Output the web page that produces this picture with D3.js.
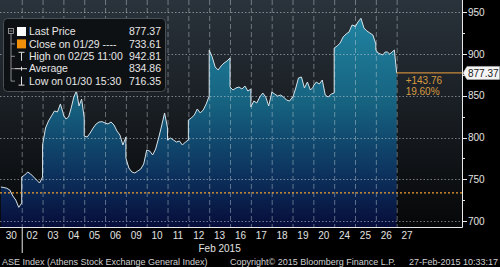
<!DOCTYPE html>
<html>
<head>
<meta charset="utf-8">
<script src="https://cdn.jsdelivr.net/npm/d3@7"></script>
<style>
  html, body { margin: 0; padding: 0; background: #000; }
  svg { display: block; font-family: "Liberation Sans", Arial, sans-serif; }
</style>
</head>
<body>
<svg id="chart" width="500" height="267"></svg>
<script>
// trading sessions shown on the x axis (30 Jan .. 27 Feb 2015)
let days = ["30","02","03","04","05","06","09","10","11","12","13","16","17","18","19","20","24","25","26","27"]

// intraday prices, one list per session, evenly spread over the session
let sessions = [
  [740.7, 740.1, 739.2, 737.1, 730.0, 725.1, 716.35, 721.6],
  [752.7, 755.1, 758.7, 756.3, 752.7, 749.1, 745.5, 752.7],
  [791.0, 811.4, 819.8, 825.8, 831.8, 830.6, 840.2, 828.2],
  [827.0, 822.2, 824.6, 835.4, 848.5, 855.7, 837.8, 846.1, 823.4],
  [801.8, 800.6, 805.4, 811.4, 816.2, 818.6, 819.0, 817.4],
  [817.4, 816.2, 818.6, 815.0, 807.8, 803.0, 791.0, 800.6],
  [775.5, 763.5, 758.7, 757.5, 759.9, 762.3, 768.3, 785.0],
  [785.0, 783.8, 779.1, 786.2, 799.4, 813.8, 829.4, 811.4],
  [797.0, 799.4, 797.0, 794.6, 795.8, 791.0, 794.6, 797.0],
  [821.0, 823.4, 827.0, 834.2, 829.4, 833.0, 840.2, 849.7],
  [904.8, 896.5, 884.5, 880.9, 885.7, 889.3, 891.7, 895.3],
  [860.5, 856.9, 859.3, 860.5, 858.1, 861.7, 855.7, 858.1],
  [836.6, 843.7, 841.4, 848.5, 853.3, 848.5, 837.8, 853.3],
  [854.5, 852.1, 849.7, 850.9, 848.5, 844.9, 843.7, 848.5],
  [847.3, 858.1, 871.3, 872.5, 859.3, 866.5, 856.9, 860.5],
  [861.7, 866.5, 864.1, 868.9, 850.9, 848.5, 852.1, 853.3],
  [907.2, 909.6, 913.2, 920.4, 924.0, 926.4, 934.8, 933.6],
  [932.4, 938.4, 942.81, 931.2, 927.6, 925.2, 922.8, 912.0],
  [904.8, 901.2, 900.0, 898.9, 902.4, 902.4, 900.0, 902.4, 904.8, 877.37]
]

let yTicks = [700, 750, 800, 850, 900, 950]
let yMinorTicks = [725, 775, 825, 875, 925]

let legendLabels = ["Last Price", "Close on 01/29 ----", "High on 02/25 11:00", "Average", "Low on 01/30 15:30"]
let legendValues = [877.37, 733.61, 942.81, 834.86, 716.35]

let lastPrice = 877.37
let prevClose = 733.61
let netChange = 143.76
let pctChange = 19.60

let monthLabel = "Feb 2015"
let footerLeft = "ASE Index (Athens Stock Exchange General Index)"
let footerMid = "Copyright\u00a9 2015 Bloomberg Finance L.P."
let footerRight = "27-Feb-2015 10:33:17"

// ---------------------------------------------------------------
let svg = d3.select("#chart")
let plotRight = 462, plotBottom = 227

let x = d3.scaleBand().domain(days).range([0.9, 417.5])
let y = d3.scaleLinear().domain([700, 950]).range([221, 12.3])

let points = []
sessions.forEach((s, i) => {
  s.forEach((v, j) => {
    points.push({ x: x(days[i]) + x.bandwidth() * j / (s.length - 1), v: v })
  })
})

let defs = svg.append("defs")
let bg = defs.append("linearGradient").attr("id", "bg")
    .attr("gradientUnits", "userSpaceOnUse")
    .attr("x1", 0).attr("y1", 0).attr("x2", 0).attr("y2", plotBottom)
bg.append("stop").attr("offset", 0).attr("stop-color", "#2a333b")
bg.append("stop").attr("offset", 0.5).attr("stop-color", "#181d22")
bg.append("stop").attr("offset", 1).attr("stop-color", "#060708")

let fill = defs.append("linearGradient").attr("id", "fill")
    .attr("gradientUnits", "userSpaceOnUse")
    .attr("x1", 0).attr("y1", 0).attr("x2", 0).attr("y2", plotBottom)
fill.append("stop").attr("offset", 0).attr("stop-color", "#228aa8")
fill.append("stop").attr("offset", 0.45).attr("stop-color", "#166380")
fill.append("stop").attr("offset", 0.75).attr("stop-color", "#0d3560")
fill.append("stop").attr("offset", 1).attr("stop-color", "#070d3a")

svg.append("rect").attr("width", 500).attr("height", 267).attr("fill", "#000")
svg.append("rect").attr("width", plotRight).attr("height", plotBottom).attr("fill", "url(#bg)")

svg.append("path")
    .datum(points)
    .attr("fill", "url(#fill)")
    .attr("d", d3.area().x(d => d.x).y0(plotBottom).y1(d => y(d.v)))

// grid
svg.append("g").selectAll("line")
    .data(days.slice(1))
    .enter().append("line")
    .attr("x1", d => x(d) + 0.5).attr("x2", d => x(d) + 0.5)
    .attr("y1", 0).attr("y2", plotBottom)
    .attr("stroke", "rgba(200,210,215,0.45)")
    .attr("stroke-dasharray", "5,3")

svg.append("g").selectAll("line")
    .data(yTicks)
    .enter().append("line")
    .attr("x1", 0).attr("x2", plotRight)
    .attr("y1", d => Math.round(y(d)) + 0.5).attr("y2", d => Math.round(y(d)) + 0.5)
    .attr("stroke", "rgba(200,210,215,0.55)")
    .attr("stroke-dasharray", "1.5,2")

svg.append("path")
    .datum(points)
    .attr("fill", "none")
    .attr("stroke", "#d6e2e8")
    .attr("stroke-width", 1)
    .attr("d", d3.line().x(d => d.x).y(d => y(d.v)))

// previous close
svg.append("line")
    .attr("x1", 0).attr("x2", plotRight)
    .attr("y1", y(prevClose)).attr("y2", y(prevClose))
    .attr("stroke", "#f0a030").attr("stroke-width", 1.3)
    .attr("stroke-dasharray", "2,2")

// last price line + change
let lastX = points[points.length - 1].x
svg.append("line")
    .attr("x1", lastX).attr("x2", plotRight)
    .attr("y1", y(lastPrice)).attr("y2", y(lastPrice))
    .attr("stroke", "#c98a3a").attr("stroke-width", 1.3)

svg.append("text").attr("x", lastX + 9).attr("y", y(lastPrice) + 11)
    .attr("fill", "#d99b40").attr("font-size", 10)
    .text("+" + netChange.toFixed(2))
svg.append("text").attr("x", lastX + 9).attr("y", y(lastPrice) + 22.5)
    .attr("fill", "#d99b40").attr("font-size", 10)
    .text(pctChange.toFixed(2) + "%")

// frame
svg.append("line").attr("x1", plotRight + 0.5).attr("x2", plotRight + 0.5)
    .attr("y1", 0).attr("y2", plotBottom + 0.5).attr("stroke", "#e8e8e8")
svg.append("line").attr("x1", 0).attr("x2", plotRight + 0.5)
    .attr("y1", plotBottom + 0.5).attr("y2", plotBottom + 0.5).attr("stroke", "#e8e8e8")

// right axis
let ra = svg.append("g")
ra.selectAll(".tk").data(yTicks).enter().append("line")
    .attr("x1", plotRight).attr("x2", plotRight + 5)
    .attr("y1", d => Math.round(y(d)) + 0.5).attr("y2", d => Math.round(y(d)) + 0.5)
    .attr("stroke", "#e8e8e8")
ra.selectAll(".mt").data(yMinorTicks).enter().append("line")
    .attr("x1", plotRight).attr("x2", plotRight + 3)
    .attr("y1", d => Math.round(y(d)) + 0.5).attr("y2", d => Math.round(y(d)) + 0.5)
    .attr("stroke", "#e8e8e8")
ra.selectAll("text").data(yTicks).enter().append("text")
    .attr("x", plotRight + 6).attr("y", d => y(d)).attr("dy", "0.36em")
    .attr("fill", "#e2e2e2").attr("font-size", 10)
    .text(d => d)

// last price tag
let ly = y(lastPrice)
svg.append("path")
    .attr("d", `M${plotRight + 1},${ly} L${plotRight + 5},${ly - 6.5} L499.5,${ly - 6.5} L499.5,${ly + 6.5} L${plotRight + 5},${ly + 6.5} Z`)
    .attr("fill", "#f4f4f4").attr("stroke", "#bbb").attr("stroke-width", 0.6)
svg.append("text").attr("x", plotRight + 6).attr("y", ly).attr("dy", "0.36em")
    .attr("fill", "#1a1a1a").attr("font-size", 10)
    .text(lastPrice.toFixed(2))

// x axis labels
svg.append("g").selectAll("text").data(days).enter().append("text")
    .attr("x", d => x(d) + x.bandwidth() / 2).attr("y", 238.5)
    .attr("text-anchor", "middle").attr("fill", "#e2e2e2").attr("font-size", 10)
    .text(d => d)
svg.append("line").attr("x1", x("02") + 0.5).attr("x2", x("02") + 0.5)
    .attr("y1", plotBottom).attr("y2", 253).attr("stroke", "#e8e8e8")
svg.append("text")
    .attr("x", (x("02") + x("27") + x.bandwidth()) / 2).attr("y", 251.5)
    .attr("text-anchor", "middle").attr("fill", "#e2e2e2").attr("font-size", 10)
    .text(monthLabel)

// footer
let ft = svg.append("g").attr("fill", "#d0d0d0").attr("font-size", 9)
ft.append("text").attr("x", 2).attr("y", 264.5).text(footerLeft)
ft.append("text").attr("x", 230).attr("y", 264.5).text(footerMid)
ft.append("text").attr("x", 498).attr("y", 264.5).attr("text-anchor", "end").text(footerRight)

// legend
let lg = svg.append("g")
lg.append("rect").attr("x", 3.5).attr("y", 18.5).attr("width", 162).attr("height", 73)
    .attr("rx", 4).attr("fill", "#0e1114").attr("stroke", "#4a4f55")
let rowY = legendLabels.map((d, i) => 31.5 + i * 12.4)
lg.append("rect").attr("x", 8.5).attr("y", rowY[0] - 3).attr("width", 5).attr("height", 5)
    .attr("fill", "none").attr("stroke", "#aaa").attr("stroke-width", 0.8)
lg.append("line").attr("x1", 9.5).attr("x2", 12.5).attr("y1", rowY[0] - 0.5).attr("y2", rowY[0] - 0.5)
    .attr("stroke", "#aaa").attr("stroke-width", 0.8)
lg.append("line").attr("x1", 11).attr("x2", 11).attr("y1", rowY[0] + 2).attr("y2", rowY[4])
    .attr("stroke", "#aaa").attr("stroke-width", 0.8)
lg.selectAll(".stub").data(rowY.slice(1)).enter().append("line")
    .attr("x1", 11).attr("x2", 15).attr("y1", d => d).attr("y2", d => d)
    .attr("stroke", "#aaa").attr("stroke-width", 0.8)
lg.append("rect").attr("x", 17).attr("y", rowY[0] - 4.5).attr("width", 9).attr("height", 9).attr("fill", "#fff")
lg.append("rect").attr("x", 17).attr("y", rowY[1] - 4.5).attr("width", 9).attr("height", 9).attr("fill", "#f0900a")
let ic = lg.append("g").attr("stroke", "#ddd").attr("stroke-width", 1)
ic.append("line").attr("x1", 21.5).attr("x2", 21.5).attr("y1", rowY[2] - 4).attr("y2", rowY[2] + 4.5)
ic.append("line").attr("x1", 18.5).attr("x2", 24.5).attr("y1", rowY[2] - 4).attr("y2", rowY[2] - 4)
ic.append("line").attr("x1", 15).attr("x2", 27).attr("y1", rowY[3]).attr("y2", rowY[3])
ic.append("line").attr("x1", 21.5).attr("x2", 21.5).attr("y1", rowY[3] - 2).attr("y2", rowY[3] + 2)
ic.append("line").attr("x1", 21.5).attr("x2", 21.5).attr("y1", rowY[4] - 4.5).attr("y2", rowY[4] + 4)
ic.append("line").attr("x1", 18.5).attr("x2", 24.5).attr("y1", rowY[4] + 4).attr("y2", rowY[4] + 4)

lg.selectAll(".lab").data(legendLabels).enter().append("text")
    .attr("x", 29).attr("y", (d, i) => rowY[i]).attr("dy", "0.36em")
    .attr("fill", "#e6e6e6").attr("font-size", 10.5)
    .text(d => d)
lg.selectAll(".val").data(legendValues).enter().append("text")
    .attr("x", 161).attr("y", (d, i) => rowY[i]).attr("dy", "0.36em")
    .attr("text-anchor", "end").attr("fill", "#e6e6e6").attr("font-size", 10.5)
    .text(d => d.toFixed(2))
</script>
</body>
</html>
